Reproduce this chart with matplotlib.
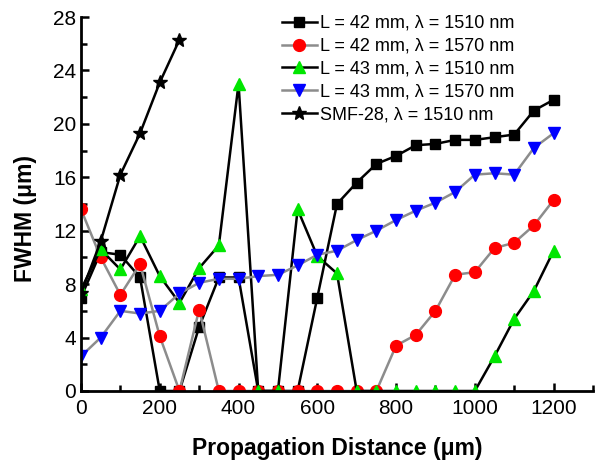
import matplotlib
matplotlib.use("Agg")
import matplotlib.pyplot as plt
from matplotlib.ticker import MultipleLocator

plt.rcParams['font.family'] = ['Liberation Sans', 'DejaVu Sans']

distance = [0, 50, 100, 150, 200, 250, 300, 350, 400, 450, 500, 550, 600,
            650, 700, 750, 800, 850, 900, 950, 1000, 1050, 1100, 1150, 1200]
l42_1510 = [7.0, 10.4, 10.2, 8.5, 0, 0, 4.8, 8.5, 8.5, 0, 0, 0, 7.0,
            14.0, 15.6, 17.0, 17.6, 18.4, 18.5, 18.8, 18.8, 19.0, 19.2, 21.0, 21.8]
l42_1570 = [13.6, 10.0, 7.2, 9.5, 4.1, 0, 6.1, 0, 0, 0, 0, 0, 0,
            0, 0, 0, 3.4, 4.2, 6.0, 8.7, 8.9, 10.7, 11.1, 12.4, 14.3]
l43_1510 = [7.6, 10.6, 9.1, 11.6, 8.6, 6.6, 9.2, 10.9, 23.0, 0, 0, 13.6, 10.1,
            8.8, 0, 0, 0, 0, 0, 0, 0, 2.6, 5.4, 7.5, 10.5]
l43_1570 = [2.6, 4.0, 6.0, 5.8, 6.0, 7.3, 8.1, 8.4, 8.4, 8.6, 8.7, 9.4, 10.2,
            10.5, 11.3, 12.0, 12.8, 13.5, 14.1, 14.9, 16.2, 16.3, 16.2, 18.2, 19.3]
smf_distance = [0, 50, 100, 150, 200, 250]
smf_1510 = [7.3, 11.2, 16.2, 19.3, 23.1, 26.3]

labels = ['L = 42 mm, \u03bb = 1510 nm', 'L = 42 mm, \u03bb = 1570 nm',
          'L = 43 mm, \u03bb = 1510 nm', 'L = 43 mm, \u03bb = 1570 nm',
          'SMF-28, \u03bb = 1510 nm']

fig = plt.figure(figsize=(5.95, 4.62), dpi=100)
ax = fig.add_axes([81/595, 1-391/462, (593-81)/595, (391-17)/462])

lw = 1.8
ms = 7.5
ax.plot(distance, l42_1510, '-', color='black', lw=lw, marker='s', ms=ms,
        mfc='black', mec='black', label=labels[0])
ax.plot(distance, l42_1570, '-', color='#8c8c8c', lw=lw, marker='o', ms=ms+1,
        mfc='#ff0000', mec='#ff0000', label=labels[1])
ax.plot(distance, l43_1510, '-', color='black', lw=lw, marker='^', ms=ms+1.5,
        mfc='#00e600', mec='#00e600', label=labels[2])
ax.plot(distance, l43_1570, '-', color='#8c8c8c', lw=lw, marker='v', ms=ms+1.5,
        mfc='#0000ff', mec='#0000ff', label=labels[3])
ax.plot(smf_distance, smf_1510, '-', color='black', lw=lw, marker='*', ms=ms+2.5,
        mfc='black', mec='black', label=labels[4])

ax.set_xlim(0, 1300)
ax.set_ylim(0, 28)
ax.xaxis.set_minor_locator(MultipleLocator(100))
ax.yaxis.set_major_locator(MultipleLocator(4))
ax.yaxis.set_minor_locator(MultipleLocator(2))
ax.set_xticks([0, 200, 400, 600, 800, 1000, 1200])
ax.tick_params(which='both', direction='in', width=1.8, labelsize=15)
ax.tick_params(which='major', length=6)
ax.tick_params(which='minor', length=4)
ax.tick_params(axis='x', pad=6)
for s in ['top', 'right']:
    ax.spines[s].set_visible(False)
for s in ['left', 'bottom']:
    ax.spines[s].set_linewidth(2)

ax.set_xlabel('Propagation Distance (\u03bcm)', fontsize=16.5, fontweight='bold')
ax.set_ylabel('FWHM (\u03bcm)', fontsize=16.5, fontweight='bold')
ax.xaxis.set_label_coords(0.5, -46/374)
ax.yaxis.set_label_coords(-44/512, (391-218)/374)

leg = ax.legend(loc='upper left', bbox_to_anchor=((275-81)/512, 1.025),
                frameon=False, fontsize=13, handlelength=1.9,
                handletextpad=0.2, labelspacing=0.33, borderaxespad=0)

fig.savefig('out.png', dpi=100)
